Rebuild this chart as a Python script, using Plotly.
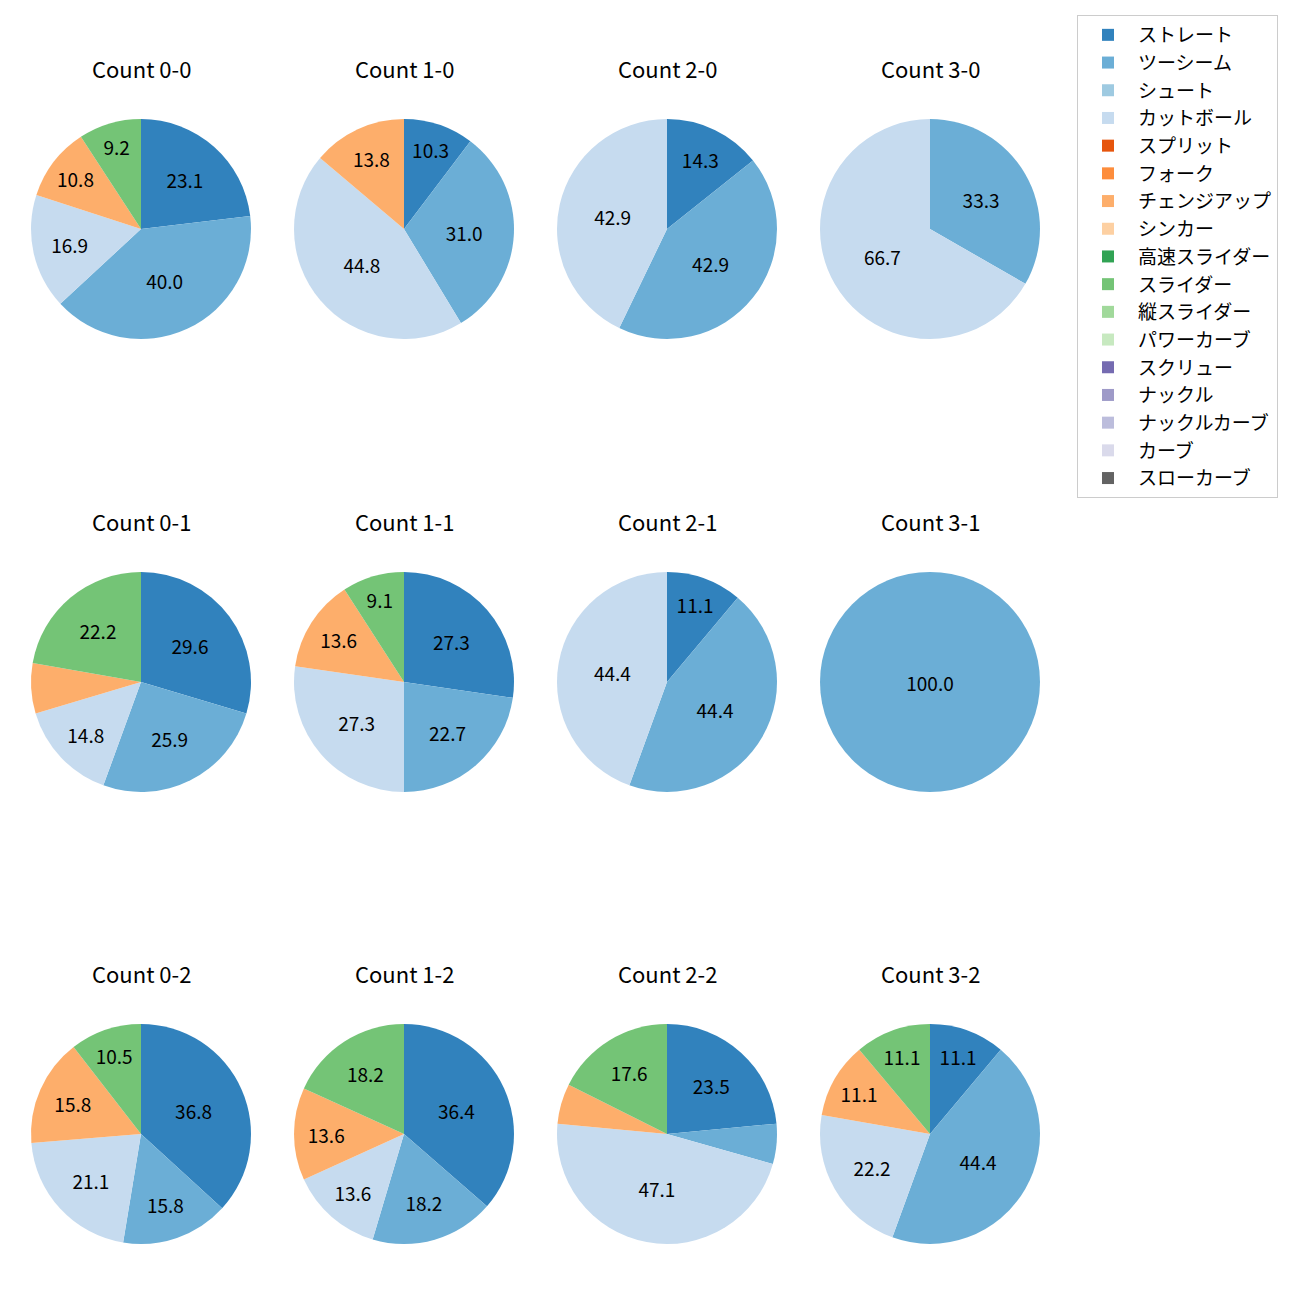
import plotly.graph_objects as go

pitch_types = ["ストレート", "ツーシーム", "シュート", "カットボール", "スプリット", "フォーク",
               "チェンジアップ", "シンカー", "高速スライダー", "スライダー", "縦スライダー",
               "パワーカーブ", "スクリュー", "ナックル", "ナックルカーブ", "カーブ", "スローカーブ"]
colors = ["#3182bd", "#6baed6", "#9ecae1", "#c6dbef", "#e6550d", "#fd8d3c",
          "#fdae6b", "#fdd0a2", "#31a354", "#74c476", "#a1d99b", "#c7e9c0",
          "#756bb1", "#9e9ac8", "#bcbddc", "#dadaeb", "#636363"]

counts = ["0-0", "1-0", "2-0", "3-0",
          "0-1", "1-1", "2-1", "3-1",
          "0-2", "1-2", "2-2", "3-2"]

# percentages per pitch type
straight   = [23.1, 10.3, 14.3, 0,    29.6, 27.3, 11.1, 0,     36.8, 36.4, 23.5, 11.1]
twoseam    = [40.0, 31.0, 42.9, 33.3, 25.9, 22.7, 44.4, 100.0, 15.8, 18.2, 5.9, 44.4]
cutter     = [16.9, 44.8, 42.9, 66.7, 14.8, 27.3, 44.4, 0,     21.1, 13.6, 47.1, 22.2]
changeup   = [10.8, 13.8, 0,    0,    7.4,  13.6, 0,    0,     15.8, 13.6, 5.9, 11.1]
slider     = [9.2,  0,    0,    0,    22.2, 9.1,  0,    0,     10.5, 18.2, 17.6, 11.1]

series = {"ストレート": straight, "ツーシーム": twoseam, "カットボール": cutter,
          "チェンジアップ": changeup, "スライダー": slider}

OFF = 8  # page body margin
col_centers = [141 - OFF, 404 - OFF, 667 - OFF, 930 - OFF]
row_centers = [229 - OFF, 682 - OFF, 1134 - OFF]
R = 110
W = H = 1300

fig = go.Figure()
annotations = []
for i, cnt in enumerate(counts):
    r, c = divmod(i, 4)
    cx, cy = col_centers[c], row_centers[r]
    vals = [series.get(p, [0] * 12)[i] for p in pitch_types]
    text = [f"{v:.1f}" if v >= 8 else "" for v in vals]
    fig.add_trace(go.Pie(
        labels=pitch_types, values=vals, text=text,
        textinfo="text", textposition="inside", insidetextorientation="horizontal",
        textfont=dict(size=19, color="black"),
        marker=dict(colors=colors, line=dict(width=0)),
        sort=False, direction="clockwise", rotation=0,
        domain=dict(x=[(cx - R) / W, (cx + R) / W], y=[1 - (cy + R) / H, 1 - (cy - R) / H]),
        showlegend=(i == 0),
    ))
    annotations.append(dict(text=f"Count {cnt}", x=cx / W, y=1 - (cy - 161) / H,
                            xref="paper", yref="paper", showarrow=False,
                            font=dict(size=22, color="black"), xanchor="center", yanchor="middle"))

fig.update_layout(
    width=W, height=H, margin=dict(l=0, r=0, t=0, b=0),
    paper_bgcolor="white", plot_bgcolor="white",
    font=dict(family="Noto Sans CJK JP", color="black"),
    annotations=annotations,
    legend=dict(x=(1077 - OFF) / W, y=1 - (15 - OFF) / H, xanchor="left", yanchor="top",
                bordercolor="#cccccc", borderwidth=1, font=dict(size=19),
                itemwidth=50, traceorder="normal"),
)
fig.write_html("out.html")
